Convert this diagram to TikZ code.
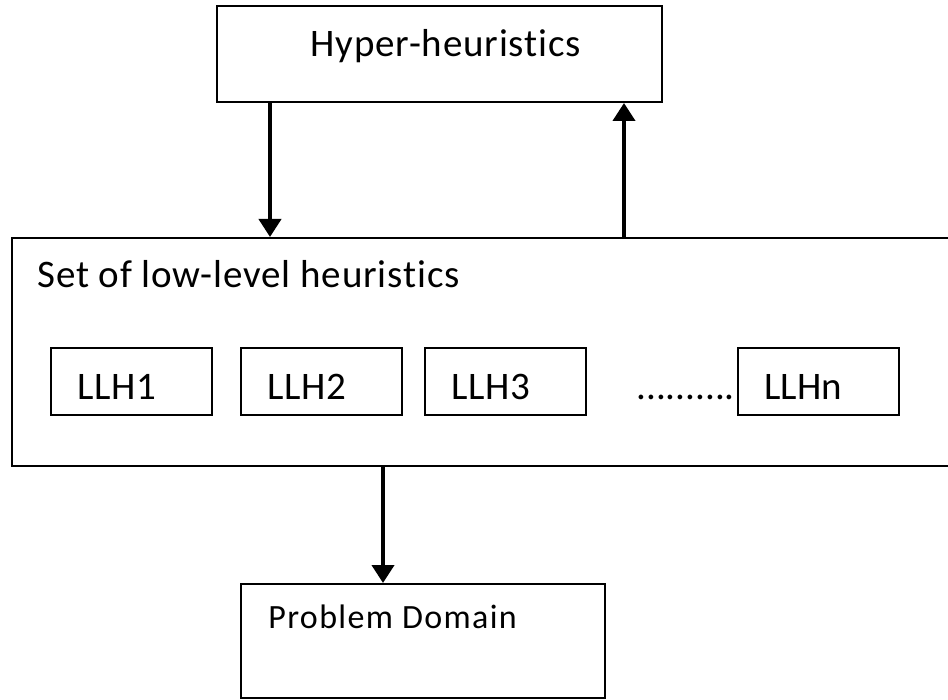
\documentclass[tikz,border=0pt]{standalone}
\usepackage{fontspec}
\setmainfont{Carlito}[Ligatures=NoCommon, LetterSpace=2.2]
\newfontfamily\plainFont{Carlito}[Ligatures=NoCommon]
\newfontfamily\wideFont{Carlito}[Ligatures=NoCommon, LetterSpace=4]
\usetikzlibrary{arrows.meta}

\begin{document}
\begin{tikzpicture}[x=0.5pt, y=-0.5pt,
		box/.style={draw, line width=1pt, inner sep=0pt, anchor=north west},
		txt/.style={anchor=base west, inner sep=0pt, font=\fontsize{19.5}{23}\selectfont},
		flow/.style={line width=2pt, -{Triangle[width=11pt,length=9pt]}}]
	\useasboundingbox (0,0) rectangle (948,700);
	\clip (0,0) rectangle (948,700);

	% top and bottom boxes
	\node[box, minimum width=222.5pt, minimum height=48pt] (hyper) at (216,5) {};
	\node[txt] (hyperText) at (310,57) {Hyper-heuristics};

	\node[box, minimum width=182pt, minimum height=57pt] (domain) at (240,583) {};
	\node[txt, font=\wideFont\fontsize{17}{20}\selectfont] (domainText) at (268,628) {Problem Domain};

	% set of low-level heuristics (runs off the right edge)
	\node[box, minimum width=479.5pt, minimum height=114pt] (llhset) at (11,237) {};
	\node[txt] (setText) at (37,288) {Set of low-level heuristics};

	\newcommand\drawLLH[3]{\node[box, minimum width=80.5pt, minimum height=33.5pt] (#3) at (#1,347) {};
		\node[txt] (#3Text) at (#1+27,400) {#2};}

	\drawLLH{50}{LLH1}{llhA}
	\drawLLH{240}{LLH2}{llhB}
	\drawLLH{424}{LLH3}{llhC}
	\drawLLH{737}{\plainFont LLHn}{llhN}
	\node[txt, font=\plainFont\fontsize{19.5}{23}\selectfont] (dots) at (636,400) {..........};

	% connectors
	\coordinate (downX) at (270,0);
	\coordinate (upX) at (624,0);
	\coordinate (domX) at (383,0);
	\draw[flow] (hyper.south -| downX) -- (llhset.north -| downX);
	\draw[flow] (llhset.north -| upX) -- (hyper.south -| upX);
	\draw[flow] (llhset.south -| domX) -- (domain.north -| domX);
\end{tikzpicture}
\end{document}
